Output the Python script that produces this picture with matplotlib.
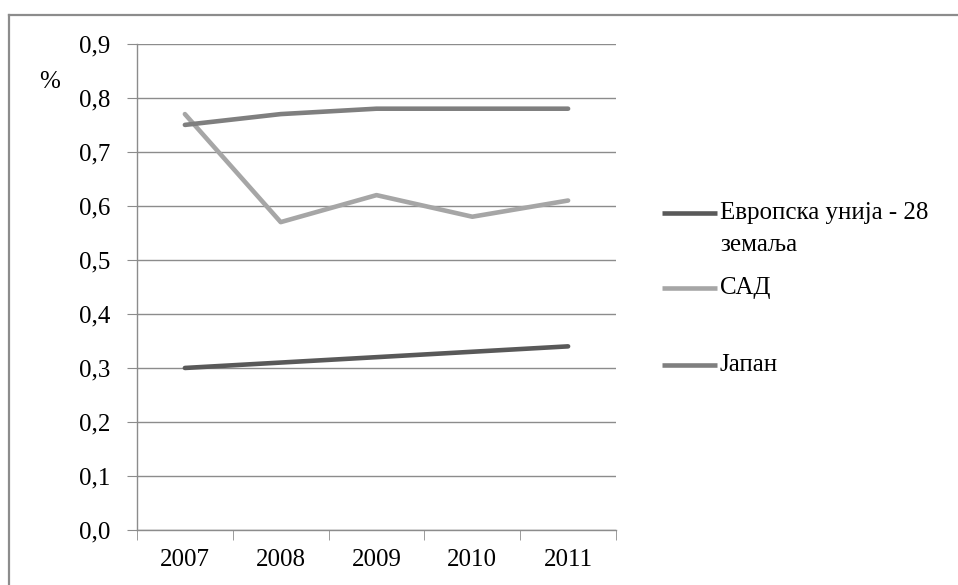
import matplotlib.pyplot as plt
from matplotlib.lines import Line2D

plt.rcParams['font.family'] = ['Liberation Serif', 'DejaVu Serif']

# udeo u procentima, 2007-2011
years = ['2007', '2008', '2009', '2010', '2011']
eu28 = [0.30, 0.31, 0.32, 0.33, 0.34]
usa = [0.77, 0.57, 0.62, 0.58, 0.61]
japan = [0.75, 0.77, 0.78, 0.78, 0.78]

series = [
    ('Европска унија - 28\nземаља', eu28, '#595959'),
    ('САД', usa, '#a6a6a6'),
    ('Јапан', japan, '#7f7f7f'),
]

fig = plt.figure(figsize=(9.58, 5.85), dpi=100)
ax = fig.add_axes([0.143, 0.094, 0.5, 0.831])

x = range(len(years))
for name, vals, col in [series[1], series[2], series[0]]:
    ax.plot(x, vals, color=col, lw=3.3, solid_capstyle='round', zorder=3)

grid_col = '#8c8c8c'
ax.set_xlim(-0.5, len(years) - 0.5)
ax.set_ylim(0, 0.9)
yt = [i / 10 for i in range(10)]
ax.set_yticks(yt)
ax.set_yticklabels([('%.1f' % v).replace('.', ',') for v in yt])
ax.set_xticks(list(x))
ax.set_xticklabels(years)
ax.set_xticks([i - 0.5 for i in range(len(years) + 1)], minor=True)
ax.yaxis.grid(True, color=grid_col, lw=1)
ax.set_axisbelow(True)

for s in ['top', 'right']:
    ax.spines[s].set_visible(False)
for s in ['left', 'bottom']:
    ax.spines[s].set_color(grid_col)
    ax.spines[s].set_linewidth(1)

ax.tick_params(axis='y', length=7, color=grid_col, labelsize=18, pad=12)
ax.tick_params(axis='x', which='major', length=0, labelsize=18, pad=14)
ax.tick_params(axis='x', which='minor', length=7, color=grid_col)

fig.text(0.041, 0.86, '%', fontsize=18, va='center', ha='left')

# legenda desno od grafika
leg_y = [213, 288, 365]
for (name, vals, col), yy in zip(series, leg_y):
    fy = 1 - yy / 585
    fig.add_artist(Line2D([662 / 958, 717 / 958], [fy, fy], color=col, lw=3.3,
                          solid_capstyle='butt'))
    for k, line in enumerate(name.split('\n')):
        fig.text(720 / 958, fy - k * 32 / 585, line, fontsize=18, va='center', ha='left')

# okvir oko slike
fig.add_artist(Line2D([9 / 958, 9 / 958], [0, 1 - 15 / 585], color='#8c8c8c', lw=1.6))
fig.add_artist(Line2D([9 / 958, 1], [1 - 15 / 585, 1 - 15 / 585], color='#8c8c8c', lw=1.6))

fig.savefig('out.png', dpi=100)
